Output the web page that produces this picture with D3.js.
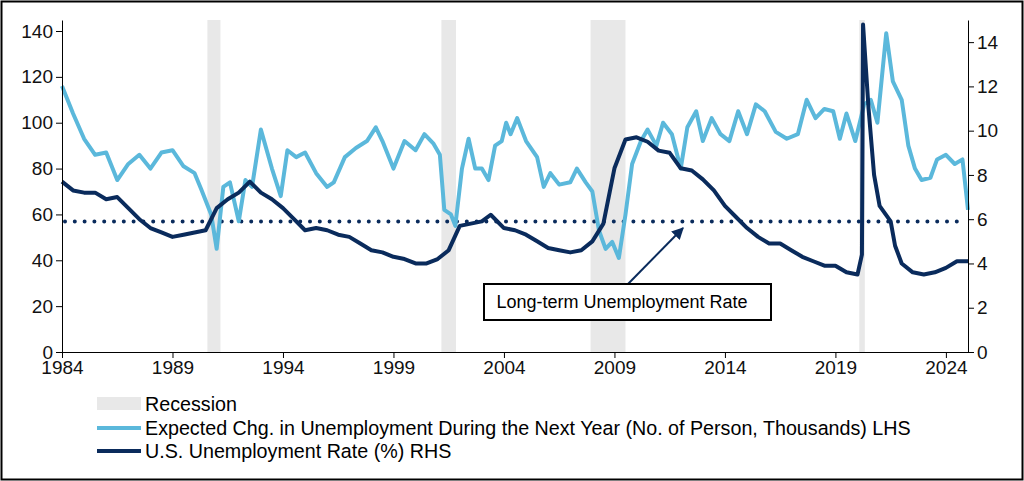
<!DOCTYPE html>
<html><head><meta charset="utf-8">
<script src="https://cdn.jsdelivr.net/npm/d3@7"></script>
<style>
body{margin:0;background:#fff;font-family:"Liberation Sans",Arial,sans-serif;}
</style></head><body>
<script>
var width = 1024, height = 481;

// expected change in unemployment (LHS)
var expYears = [1984,1984.5,1985,1985.5,1986,1986.5,1987,1987.5,1988,1988.5,1989,1989.5,1990,1990.3,1990.75,1991,1991.3,1991.6,1992,1992.3,1992.6,1993,1993.5,1993.9,1994.2,1994.6,1995,1995.5,1996,1996.3,1996.8,1997.3,1997.8,1998.2,1998.5,1999,1999.5,2000,2000.4,2000.8,2001.1,2001.3,2001.6,2001.8,2002.1,2002.4,2002.7,2003,2003.3,2003.6,2003.9,2004.1,2004.3,2004.6,2005,2005.5,2005.8,2006.1,2006.5,2007,2007.3,2007.7,2008,2008.3,2008.6,2008.9,2009.2,2009.5,2009.8,2010.2,2010.5,2010.9,2011.2,2011.6,2012,2012.3,2012.7,2013,2013.4,2013.8,2014.2,2014.6,2015,2015.4,2015.8,2016.3,2016.8,2017.3,2017.7,2018.1,2018.5,2018.9,2019.2,2019.5,2019.9,2020.1,2020.3,2020.6,2020.9,2021.3,2021.6,2022,2022.3,2022.6,2022.9,2023.3,2023.6,2024,2024.4,2024.75,2025];
var expValues = [116,104,93,86,87,75,82,86,80,87,88,81,78,71,60,45,72,74,57,75,72,97,80,68,88,85,87,78,72,74,85,89,92,98,92,80,92,88,95,91,86,62,60,55,80,93,80,80,75,90,92,100,95,102,92,85,72,78,73,74,80,74,70,53,45,48,41,60,82,92,97,90,100,95,80,98,105,92,102,95,92,105,95,108,105,96,93,95,110,102,106,105,93,104,92,100,108,110,100,139,118,110,90,80,75,76,84,86,82,84,62];

// U.S. unemployment rate (RHS)
var urYears = [1984,1984.5,1985,1985.5,1986,1986.5,1987,1987.5,1988,1988.5,1989,1989.5,1990,1990.5,1991,1991.5,1992,1992.5,1993,1993.5,1994,1994.5,1995,1995.5,1996,1996.5,1997,1997.5,1998,1998.5,1999,1999.5,2000,2000.5,2001,2001.5,2002,2002.5,2003,2003.4,2004,2004.5,2005,2005.5,2006,2006.5,2007,2007.5,2008,2008.5,2009,2009.5,2010,2010.5,2011,2011.5,2012,2012.5,2013,2013.5,2014,2014.5,2015,2015.5,2016,2016.5,2017,2017.5,2018,2018.5,2019,2019.5,2020,2020.2,2020.25,2020.5,2020.75,2021,2021.5,2021.7,2022,2022.5,2023,2023.5,2024,2024.5,2025];
var urValues = [7.7,7.3,7.2,7.2,6.9,7.0,6.5,6.0,5.6,5.4,5.2,5.3,5.4,5.5,6.5,6.9,7.2,7.7,7.2,6.9,6.5,6.0,5.5,5.6,5.5,5.3,5.2,4.9,4.6,4.5,4.3,4.2,4.0,4.0,4.2,4.6,5.7,5.8,5.9,6.2,5.6,5.5,5.3,5.0,4.7,4.6,4.5,4.6,5.0,5.8,8.3,9.6,9.7,9.5,9.1,9.0,8.3,8.2,7.8,7.3,6.6,6.1,5.6,5.2,4.9,4.9,4.6,4.3,4.1,3.9,3.9,3.6,3.5,4.4,14.8,11.0,8.0,6.6,5.9,4.8,4.0,3.6,3.5,3.6,3.8,4.1,4.1];

var recessions = [[1990.58,1991.17],[2001.17,2001.83],[2007.92,2009.5],[2020.08,2020.33]];
var longTermRate = 5.9;
var leftTicks = [0,20,40,60,80,100,120,140];
var rightTicks = [0,2,4,6,8,10,12,14];
var yearTicks = [1984,1989,1994,1999,2004,2009,2014,2019,2024];

var expColor = "#5bb8db", urColor = "#0a2b5c";

var svg = d3.select("body").append("svg").attr("width",width).attr("height",height);
svg.append("rect").attr("x",1.5).attr("y",1.5).attr("width",width-3).attr("height",height-3)
   .attr("fill","none").attr("stroke","#000").attr("stroke-width",2);

var mLeft = 62, mRight = 968, mTop = 20, mBottom = 352;
var x = d3.scaleLinear().domain([1984,2025]).range([mLeft,mRight]);
var yL = d3.scaleLinear().domain([0,144.8]).range([mBottom,mTop]);
var yR = d3.scaleLinear().domain([0,15]).range([mBottom,mTop]);

svg.append("g").selectAll("rect").data(recessions).enter().append("rect")
   .attr("x",function(d){return x(d[0]);}).attr("width",function(d){return x(d[1])-x(d[0]);})
   .attr("y",mTop).attr("height",mBottom-mTop).attr("fill","#e8e8e8");

svg.append("line").attr("x1",x(1984)+3).attr("x2",mRight-3)
   .attr("y1",yR(longTermRate)).attr("y2",yR(longTermRate))
   .attr("stroke",urColor).attr("stroke-width",4).attr("stroke-linecap","round")
   .attr("stroke-dasharray","0,9.8");

var lineL = d3.line().x(function(d){return x(d[0]);}).y(function(d){return yL(d[1]);});
var lineR = d3.line().x(function(d){return x(d[0]);}).y(function(d){return yR(d[1]);});
svg.append("path").datum(d3.zip(expYears,expValues)).attr("d",lineL)
   .attr("fill","none").attr("stroke",expColor).attr("stroke-width",4).attr("stroke-linejoin","round");
svg.append("path").datum(d3.zip(urYears,urValues)).attr("d",lineR)
   .attr("fill","none").attr("stroke",urColor).attr("stroke-width",4).attr("stroke-linejoin","round");

function style(g){
  g.selectAll("text").attr("font-size",19).attr("fill","#111").attr("font-family","Liberation Sans, Arial, sans-serif");
  g.selectAll("line,path").attr("stroke","#000");
}
svg.append("g").attr("transform","translate("+mLeft+",0)")
   .call(d3.axisLeft(yL).tickValues(leftTicks).tickSize(6).tickSizeOuter(0)).call(style);
svg.append("g").attr("transform","translate("+mRight+",0)")
   .call(d3.axisRight(yR).tickValues(rightTicks).tickSize(6).tickSizeOuter(0)).call(style);
svg.append("g").attr("transform","translate(0,"+mBottom+")")
   .call(d3.axisBottom(x).tickValues(yearTicks).tickFormat(d3.format("d")).tickSize(6).tickSizeOuter(0)).call(style);

// annotation
svg.append("defs").append("marker").attr("id","ah").attr("viewBox","0 0 10 10").attr("refX",9).attr("refY",5)
   .attr("markerWidth",6).attr("markerHeight",6).attr("orient","auto")
   .append("path").attr("d","M0,0L10,5L0,10z").attr("fill",urColor);
svg.append("line").attr("x1",628).attr("y1",284).attr("x2",683).attr("y2",228)
   .attr("stroke",urColor).attr("stroke-width",2).attr("marker-end","url(#ah)");
svg.append("rect").attr("x",484).attr("y",284).attr("width",287).attr("height",36)
   .attr("fill","#fff").attr("stroke","#000").attr("stroke-width",2);
svg.append("text").attr("x",622).attr("y",308).attr("text-anchor","middle").attr("font-size",18)
   .text("Long-term Unemployment Rate");

// legend
var lg = svg.append("g").attr("font-size",19.7);
lg.append("rect").attr("x",97).attr("y",397).attr("width",44).attr("height",13).attr("fill","#e8e8e8");
lg.append("text").attr("x",145).attr("y",411).text("Recession");
lg.append("line").attr("x1",97).attr("x2",141).attr("y1",428).attr("y2",428).attr("stroke",expColor).attr("stroke-width",4);
lg.append("text").attr("x",145).attr("y",435).text("Expected Chg. in Unemployment During the Next Year (No. of Person, Thousands) LHS");
lg.append("line").attr("x1",97).attr("x2",141).attr("y1",451).attr("y2",451).attr("stroke",urColor).attr("stroke-width",4);
lg.append("text").attr("x",145).attr("y",458).text("U.S. Unemployment Rate (%) RHS");
</script>
</body></html>
